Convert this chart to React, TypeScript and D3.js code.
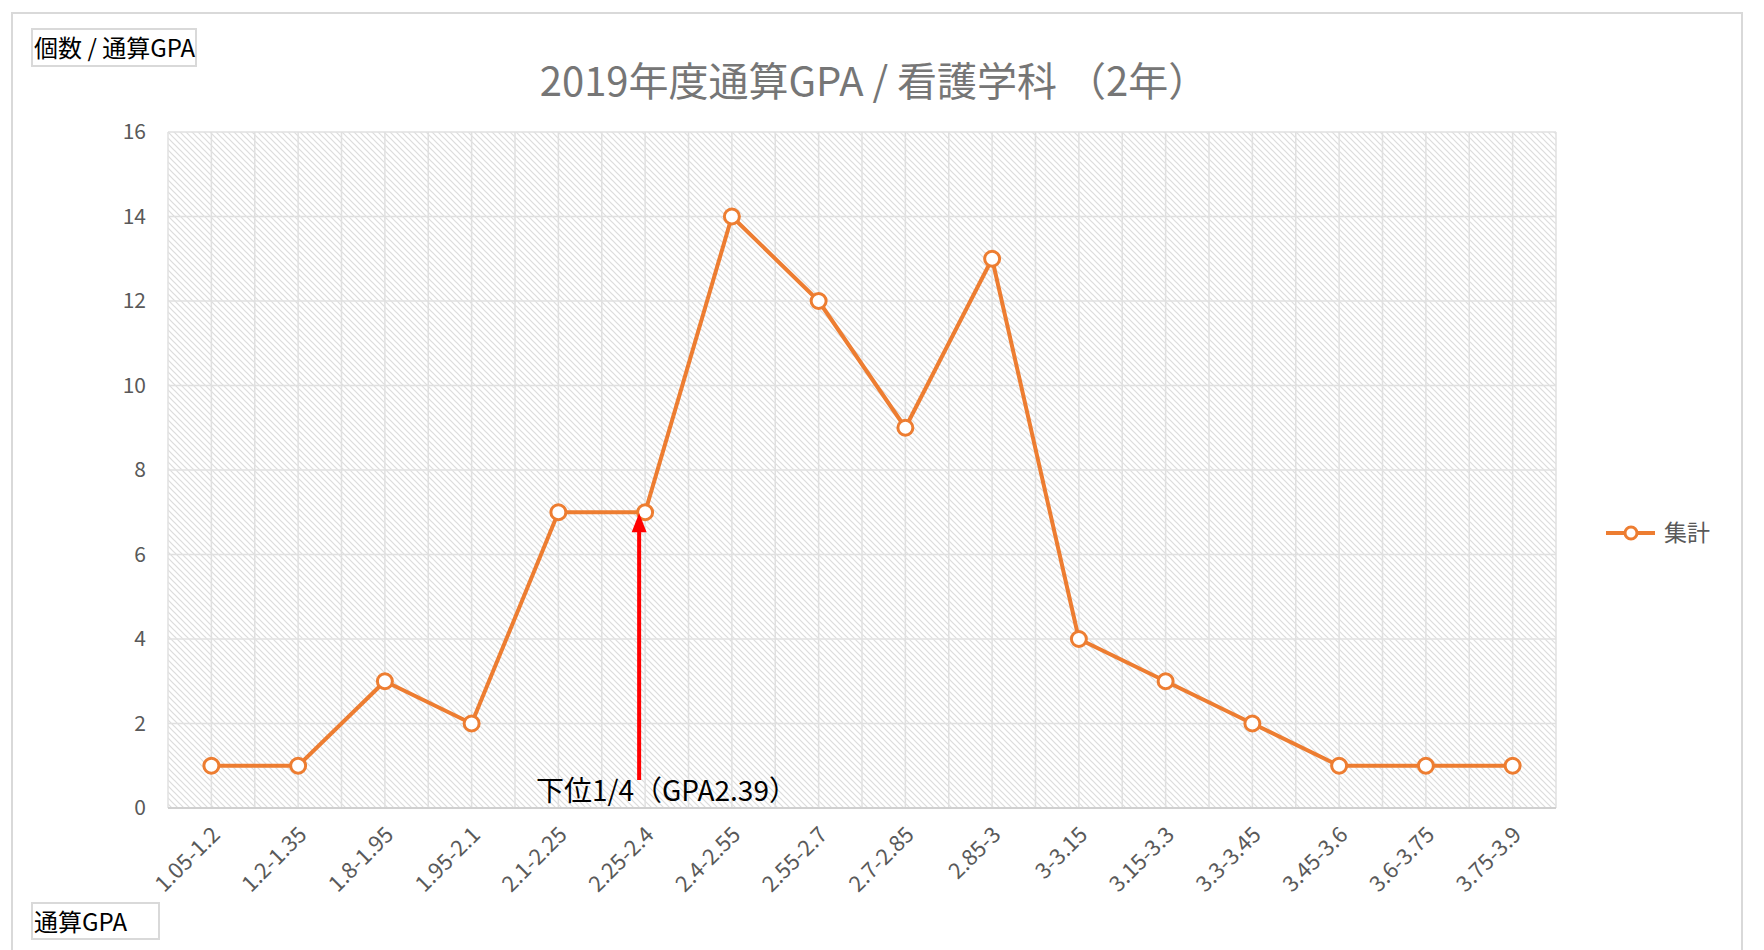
import React from "react";
import * as d3 from "d3";

const categories = [
  "1.05-1.2", "1.2-1.35", "1.8-1.95", "1.95-2.1", "2.1-2.25", "2.25-2.4",
  "2.4-2.55", "2.55-2.7", "2.7-2.85", "2.85-3", "3-3.15", "3.15-3.3",
  "3.3-3.45", "3.45-3.6", "3.6-3.75", "3.75-3.9",
];
const counts = [1, 1, 3, 2, 7, 7, 14, 12, 9, 13, 4, 3, 2, 1, 1, 1];
const yTicks = [0, 2, 4, 6, 8, 10, 12, 14, 16];
const title = "2019年度通算GPA / 看護学科 （2年）";
const seriesName = "集計";
const yAxisTitle = "個数 / 通算GPA";
const xAxisTitle = "通算GPA";
const annotationText = "下位1/4（GPA2.39）";
const annotationIndex = 5;

const W = 1764;
const H = 950;
const plot = { left: 168, top: 132, right: 1556, bottom: 808 };
const FONT = "'Noto Sans CJK JP', 'Noto Sans', sans-serif";
const ORANGE = "#ED7D31";
const GRID = "#e0e0e0";
const TEXT = "#595959";

export default function App() {
  const x = d3
    .scaleBand<string>()
    .domain(categories)
    .range([plot.left, plot.right])
    .padding(0);
  const y = d3.scaleLinear().domain([0, 16]).range([plot.bottom, plot.top]);
  const bw = x.bandwidth();
  const cx = (c: string) => (x(c) as number) + bw / 2;

  const line = d3
    .line<number>()
    .x((_, i) => cx(categories[i]))
    .y((d) => y(d));

  const vLines: number[] = [];
  categories.forEach((c) => {
    vLines.push(x(c) as number);
    vLines.push(cx(c));
  });
  vLines.push(plot.right);

  const arrowX = cx(categories[annotationIndex]) - 6;
  const arrowTipY = y(counts[annotationIndex]) + 1;

  return (
    <svg
      width={W}
      height={H}
      style={{ position: "absolute", left: 0, top: 0, background: "#fff" }}
      fontFamily={FONT}
    >
      <defs>
        <pattern id="diag" width="6" height="6" patternUnits="userSpaceOnUse">
          <rect width="6" height="6" fill="#ffffff" />
          <path d="M-1,-1 L7,7 M-1,5 L1,7 M5,-1 L7,1" stroke="#dcdcdc" strokeWidth="1.2" />
        </pattern>
      </defs>
      <rect x={12} y={13} width={1730} height={960} fill="#fff" stroke="#d9d9d9" strokeWidth={2} />

      {/* title */}
      <text x={874} y={96} textAnchor="middle" fontSize={40} fill="#767676">
        {title}
      </text>

      {/* plot area */}
      <rect
        x={plot.left}
        y={plot.top}
        width={plot.right - plot.left}
        height={plot.bottom - plot.top}
        fill="url(#diag)"
      />
      {vLines.map((v, i) => (
        <line key={"v" + i} x1={v} x2={v} y1={plot.top} y2={plot.bottom} stroke={GRID} strokeWidth={1.5} />
      ))}
      {yTicks.map((t) => (
        <line key={"h" + t} x1={plot.left} x2={plot.right} y1={y(t)} y2={y(t)} stroke={GRID} strokeWidth={1.5} />
      ))}
      <line x1={plot.left} x2={plot.right} y1={plot.bottom} y2={plot.bottom} stroke="#d0d0d0" strokeWidth={2} />

      {/* y tick labels */}
      {yTicks.map((t) => (
        <text key={"yl" + t} x={146} y={y(t)} dy="0.35em" textAnchor="end" fontSize={21} fill={TEXT}>
          {t}
        </text>
      ))}

      {/* x tick labels */}
      {categories.map((c) => (
        <text
          key={"xl" + c}
          transform={`translate(${cx(c) + 10},${plot.bottom + 28}) rotate(-45)`}
          textAnchor="end"
          fontSize={22}
          fill={TEXT}
        >
          {c}
        </text>
      ))}

      {/* series */}
      <path d={line(counts) || ""} fill="none" stroke={ORANGE} strokeWidth={4} strokeLinejoin="round" />
      {counts.map((d, i) => (
        <circle key={"p" + i} cx={cx(categories[i])} cy={y(d)} r={7.5} fill="#fff" stroke={ORANGE} strokeWidth={3} />
      ))}

      {/* annotation arrow */}
      <line x1={arrowX} x2={arrowX} y1={780} y2={arrowTipY + 16} stroke="#ff0000" strokeWidth={4} />
      <path
        d={`M${arrowX},${arrowTipY} L${arrowX - 7.5},${arrowTipY + 19} L${arrowX + 7.5},${arrowTipY + 19} Z`}
        fill="#ff0000"
      />
      <text x={536} y={801} fontSize={28} fill="#000">
        {annotationText}
      </text>

      {/* axis title boxes */}
      <rect x={32} y={29} width={164} height={37} fill="#fff" stroke="#d9d9d9" strokeWidth={2} />
      <text x={34} y={57} fontSize={24} fill="#000">
        {yAxisTitle}
      </text>
      <rect x={32} y={903} width={127} height={36} fill="#fff" stroke="#d9d9d9" strokeWidth={2} />
      <text x={34} y={931} fontSize={24} fill="#000">
        {xAxisTitle}
      </text>

      {/* legend */}
      <line x1={1606} x2={1655} y1={533} y2={533} stroke={ORANGE} strokeWidth={4} />
      <circle cx={1631} cy={533} r={6} fill="#fff" stroke={ORANGE} strokeWidth={3} />
      <text x={1664} y={533} dy="0.36em" fontSize={23} fill={TEXT}>
        {seriesName}
      </text>
    </svg>
  );
}
